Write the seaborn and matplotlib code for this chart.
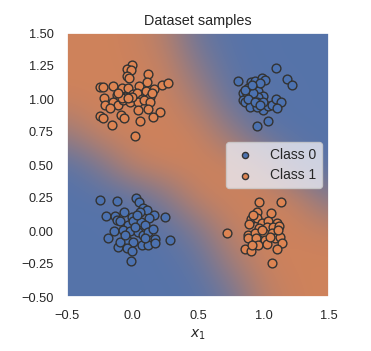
import numpy as np
import matplotlib
matplotlib.use("Agg")
import matplotlib.pyplot as plt
import seaborn as sns
from matplotlib.colors import LinearSegmentedColormap

# class 0 samples (blue): cluster around (1, 1) and around (0, 0)
class0_x = [
    1.093, 0.808, 0.902, 0.935, 0.991, 1.011, 1.177, 1.215, 0.884, 0.953,
    0.841, 0.872, 0.961, 0.994, 0.841, 0.859, 0.922, 0.961, 0.910, 0.953,
    0.994, 1.037, 1.062, 1.095, 1.131, 1.106, 0.897, 0.948, 1.037, 0.953,
    0.973, 0.922, 0.999, 0.884, 0.859, 0.935, 0.973, 0.910,
    -0.248, -0.116, 0.027, 0.052, 0.083, 0.108, 0.164, 0.248, -0.202, -0.134,
    -0.121, -0.065, -0.006, 0.057, 0.128, -0.095, -0.032, 0.006, 0.062, 0.095,
    -0.139, -0.070, -0.019, 0.045, 0.083, 0.121, 0.159, -0.190, -0.045, 0.006,
    0.070, 0.121, 0.172, 0.286, -0.108, -0.045, -0.006, -0.014, 0.172, -0.095,
    0.019, -0.057, 0.095, 0.032,
]
class0_y = [
    1.232, 1.136, 1.126, 1.136, 1.157, 1.144, 1.152, 1.106, 1.081, 1.101,
    1.043, 1.035, 1.063, 1.025, 0.992, 0.980, 1.005, 1.018, 0.955, 0.980,
    0.917, 0.949, 0.955, 1.000, 0.980, 0.929, 0.942, 0.942, 0.833, 0.798,
    1.119, 1.043, 0.980, 1.000, 1.068, 0.980, 0.955, 1.106,
    0.235, 0.227, 0.253, 0.222, 0.172, 0.159, 0.121, 0.109, 0.114, 0.116,
    0.083, 0.146, 0.109, 0.146, 0.096, 0.076, 0.045, 0.076, 0.066, 0.045,
    0.000, 0.008, 0.000, -0.010, -0.030, -0.005, 0.013, -0.056, -0.068, -0.086,
    -0.106, -0.106, -0.061, -0.068, -0.119, -0.131, -0.149, -0.227, -0.088, -0.081,
    0.033, -0.030, -0.056, 0.121,
]

# class 1 samples (orange): cluster around (0, 1) and around (1, 0)
class1_x = [
    -0.006, -0.039, -0.014, -0.045, -0.024, 0.116, 0.111, -0.248, -0.228, -0.151,
    -0.080, -0.032, 0.052, 0.101, 0.164, 0.223, 0.274, -0.218, -0.121, -0.095,
    -0.057, 0.006, 0.032, 0.070, 0.134, -0.210, -0.146, -0.108, -0.070, -0.019,
    0.045, 0.090, 0.134, -0.172, -0.083, 0.045, 0.121, 0.210, 0.159, -0.248,
    -0.223, -0.090, -0.062, 0.057, -0.159, 0.019, -0.006, -0.036, -0.108, 0.146,
    0.966, 1.134, 0.948, 1.055, 0.902, 0.948, 0.986, 1.037, 1.101, 0.892,
    0.966, 1.024, 1.075, 1.118, 0.724, 0.884, 0.935, 1.006, 1.062, 0.884,
    0.940, 1.011, 1.088, 1.126, 0.955, 1.024, 1.139, 0.859, 0.902, 1.101,
    1.067, 0.922, 1.050, 0.986, 0.910, 1.113,
]
class1_y = [
    1.258, 1.227, 1.220, 1.177, 1.157, 1.189, 1.131, 1.091, 1.091, 1.096,
    1.081, 1.086, 1.096, 1.061, 1.076, 1.106, 1.124, 1.010, 1.030, 1.005,
    1.018, 1.035, 1.048, 0.997, 1.018, 0.955, 0.980, 0.955, 0.992, 0.980,
    0.980, 0.992, 0.980, 0.934, 1.010, 0.917, 0.924, 0.899, 0.866, 0.874,
    0.859, 0.879, 0.854, 0.833, 0.803, 0.722, 1.018, 1.010, 1.043, 1.043,
    0.217, 0.222, 0.141, 0.134, 0.091, 0.096, 0.058, 0.076, 0.058, 0.051,
    0.020, 0.033, 0.033, 0.040, -0.018, -0.030, -0.018, -0.018, -0.018, -0.056,
    -0.056, -0.068, -0.056, -0.043, -0.106, -0.101, -0.088, -0.139, -0.149, -0.136,
    -0.240, 0.121, -0.043, 0.008, -0.106, 0.008,
]

bg_ticks = [-0.5, -0.25, 0.0, 0.25, 0.5, 0.75, 1.0, 1.25, 1.5]
bg_prob = [
    [0.07, 0.07, 0.07, 0.07, 0.08, 0.24, 0.74, 0.89, 0.90],
    [0.07, 0.07, 0.07, 0.07, 0.14, 0.55, 0.87, 0.90, 0.90],
    [0.07, 0.07, 0.07, 0.09, 0.33, 0.80, 0.89, 0.89, 0.85],
    [0.07, 0.07, 0.09, 0.37, 0.82, 0.89, 0.89, 0.82, 0.37],
    [0.09, 0.31, 0.79, 0.89, 0.90, 0.88, 0.69, 0.20, 0.08],
    [0.55, 0.87, 0.90, 0.90, 0.85, 0.49, 0.12, 0.07, 0.07],
    [0.89, 0.90, 0.90, 0.88, 0.64, 0.17, 0.08, 0.07, 0.07],
    [0.90, 0.90, 0.89, 0.83, 0.39, 0.10, 0.07, 0.07, 0.07],
    [0.90, 0.90, 0.88, 0.71, 0.21, 0.08, 0.07, 0.07, 0.07],
]

sns.set_theme()
plt.rcParams["font.family"] = ["Liberation Sans", "DejaVu Sans"]
plt.rcParams.update({
    "xtick.labelsize": 9.2,
    "ytick.labelsize": 9.2,
    "axes.titlesize": 10.4,
    "axes.labelsize": 10,
    "legend.fontsize": 10,
})

pal = sns.color_palette("deep")
c0, c1 = pal[0], pal[1]

fig = plt.figure(figsize=(3.71, 3.51), dpi=100)
ax = fig.add_axes([67 / 371, 1 - 297 / 351, 262 / 371, 264 / 351])

sns.scatterplot(x=class0_x, y=class0_y, color=c0, edgecolor="#333",
                linewidth=1.0, s=40, label="Class 0", ax=ax, zorder=3)
sns.scatterplot(x=class1_x, y=class1_y, color=c1, edgecolor="#333",
                linewidth=1.0, s=40, label="Class 1", ax=ax, zorder=3)

cmap = LinearSegmentedColormap.from_list("c0c1", [c0, c1])
half = (bg_ticks[1] - bg_ticks[0]) / 2
ax.imshow(np.array(bg_prob), origin="lower", cmap=cmap, vmin=0, vmax=1,
          interpolation="bicubic", aspect="auto",
          extent=(bg_ticks[0] - half, bg_ticks[-1] + half,
                  bg_ticks[0] - half, bg_ticks[-1] + half))
ax.set_xlim(-0.5, 1.5)
ax.set_ylim(-0.5, 1.5)
ax.set_xticks([-0.5, 0.0, 0.5, 1.0, 1.5])
ax.set_yticks([-0.5, -0.25, 0.0, 0.25, 0.5, 0.75, 1.0, 1.25, 1.5])
ax.set_title("Dataset samples")
ax.set_xlabel(r"$x_1$")
ax.grid(False)
ax.legend(loc="center right", markerscale=0.7)

fig.savefig("out.png", dpi=100)
